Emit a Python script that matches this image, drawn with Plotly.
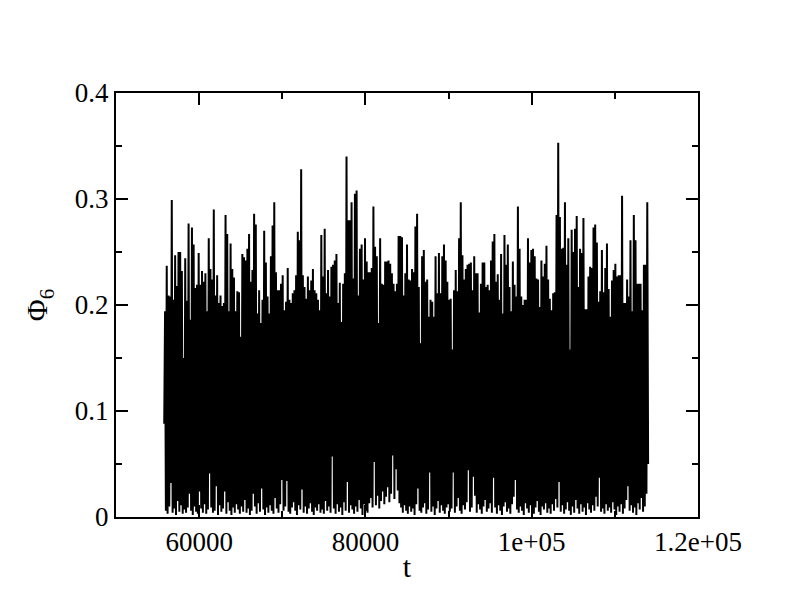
import numpy as np
import plotly.graph_objects as go

# ---- data ----
T_START = 55800
T_END = 114000
START_VALUE = 0.088

peaks = [
    0.194, 0.237, 0.209, 0.208, 0.299, 0.205, 0.247, 0.218, 0.250, 0.250,
    0.232, 0.150, 0.244, 0.204, 0.277, 0.186, 0.273, 0.257, 0.216, 0.219,
    0.249, 0.219, 0.232, 0.222, 0.230, 0.194, 0.263, 0.234, 0.224, 0.290,
    0.209, 0.228, 0.202, 0.209, 0.199, 0.202, 0.285, 0.267, 0.194, 0.258,
    0.234, 0.226, 0.194, 0.213,
    0.212, 0.170, 0.248, 0.245, 0.242, 0.253, 0.267, 0.222, 0.233, 0.286,
    0.276, 0.192, 0.214, 0.183, 0.205, 0.270, 0.240, 0.208, 0.192, 0.246,
    0.275, 0.297, 0.231, 0.214, 0.214, 0.220, 0.228, 0.195, 0.203, 0.235,
    0.205, 0.202, 0.211, 0.214, 0.228, 0.269, 0.261, 0.328, 0.228, 0.217,
    0.206, 0.227, 0.214, 0.223, 0.234, 0.214, 0.211, 0.205,
    0.195, 0.266, 0.227, 0.272, 0.211, 0.233, 0.208, 0.236, 0.238, 0.242,
    0.248, 0.202, 0.221, 0.184, 0.220, 0.230, 0.340, 0.280, 0.280, 0.297,
    0.225, 0.305, 0.308, 0.209, 0.253, 0.257, 0.224, 0.263, 0.241, 0.231,
    0.231, 0.235, 0.293, 0.255, 0.246, 0.183, 0.263, 0.220, 0.219, 0.241,
    0.241, 0.242, 0.239, 0.230, 0.220, 0.213, 0.220, 0.265,
    0.265, 0.264, 0.209, 0.230, 0.257, 0.224, 0.223, 0.234, 0.231, 0.274,
    0.286, 0.217, 0.164, 0.246, 0.252, 0.222, 0.224, 0.189, 0.205, 0.203,
    0.189, 0.246, 0.211, 0.249, 0.211, 0.246, 0.257, 0.242, 0.222, 0.205,
    0.206, 0.158, 0.214, 0.233, 0.213, 0.263, 0.297, 0.247, 0.224, 0.234,
    0.238, 0.239, 0.240, 0.214, 0.246, 0.230, 0.230, 0.193, 0.220, 0.240,
    0.240, 0.217, 0.219, 0.214, 0.242, 0.260, 0.267, 0.222, 0.229, 0.205,
    0.248, 0.192, 0.266, 0.238, 0.257, 0.217, 0.194, 0.241, 0.219, 0.208,
    0.293, 0.253, 0.208, 0.200, 0.205, 0.205, 0.263, 0.240, 0.252, 0.253,
    0.246, 0.225, 0.224, 0.198, 0.242, 0.227, 0.239, 0.256, 0.224, 0.206,
    0.195, 0.211, 0.212, 0.285, 0.353, 0.283, 0.253, 0.254, 0.297, 0.238,
    0.263,
    0.158, 0.271, 0.250, 0.272, 0.284, 0.217, 0.253, 0.249, 0.282, 0.196,
    0.196, 0.227, 0.236, 0.235, 0.273, 0.276, 0.259, 0.203, 0.213, 0.252,
    0.212, 0.235, 0.258, 0.215, 0.189, 0.223, 0.233, 0.239, 0.227, 0.228,
    0.228, 0.303, 0.202, 0.202, 0.224, 0.208, 0.261, 0.194, 0.285, 0.261,
    0.220, 0.220, 0.220, 0.195, 0.238, 0.238, 0.297,
]

troughs = [
    0.006, 0.003, 0.010, 0.032, 0.004, 0.008, 0.002, 0.015, 0.005, 0.011, 0.003, 0.007,
    0.004, 0.009, 0.022, 0.006, 0.002, 0.010, 0.005, 0.003, 0.024, 0.008, 0.004, 0.012,
    0.003, 0.007, 0.041, 0.009, 0.004, 0.006, 0.029, 0.002, 0.011, 0.005, 0.008, 0.024,
    0.003, 0.014, 0.006, 0.002, 0.009, 0.004, 0.012, 0.007, 0.003, 0.010, 0.005, 0.016,
    0.004, 0.008, 0.002, 0.006, 0.022, 0.010, 0.003, 0.013, 0.005, 0.027, 0.007, 0.002,
    0.009, 0.004, 0.011, 0.006, 0.003, 0.018, 0.008, 0.004, 0.012, 0.035, 0.006, 0.010,
    0.034, 0.005, 0.003, 0.009, 0.014, 0.006, 0.002, 0.011, 0.007, 0.026, 0.004, 0.010,
    0.003, 0.008, 0.013, 0.005, 0.002, 0.009, 0.006, 0.012, 0.004, 0.007, 0.003, 0.015,
    0.006, 0.010, 0.004, 0.057, 0.008, 0.003, 0.012, 0.005, 0.009, 0.002, 0.014, 0.006,
    0.033, 0.004, 0.011, 0.007, 0.003, 0.010, 0.005, 0.016, 0.008, 0.002, 0.012, 0.006,
    0.004, 0.013, 0.018, 0.009, 0.052, 0.011, 0.020, 0.008, 0.015, 0.024, 0.012, 0.019,
    0.028, 0.014, 0.022, 0.058, 0.017, 0.045, 0.025, 0.013, 0.009, 0.004, 0.011, 0.006,
    0.003, 0.010, 0.005, 0.008, 0.002, 0.012, 0.027, 0.006, 0.004, 0.009, 0.013, 0.003,
    0.007, 0.042, 0.005, 0.010, 0.002, 0.008, 0.015, 0.004, 0.011, 0.006, 0.003, 0.009,
    0.012, 0.005, 0.008, 0.042, 0.004, 0.010, 0.018, 0.006, 0.003, 0.011, 0.007, 0.014,
    0.044, 0.005, 0.009, 0.038, 0.020, 0.004, 0.012, 0.007, 0.003, 0.010, 0.016, 0.005,
    0.008, 0.013, 0.004, 0.037, 0.009, 0.003, 0.011, 0.006, 0.002, 0.010, 0.014, 0.005,
    0.008, 0.003, 0.012, 0.019, 0.035, 0.007, 0.004, 0.010, 0.006, 0.002, 0.013, 0.008,
    0.004, 0.011, 0.006, 0.003, 0.009, 0.015, 0.005, 0.002, 0.010, 0.007, 0.013, 0.004,
    0.008, 0.003, 0.012, 0.006, 0.017, 0.009, 0.033, 0.005, 0.011, 0.003, 0.007, 0.014,
    0.006, 0.002, 0.010, 0.004, 0.016, 0.008, 0.003, 0.012, 0.005, 0.009, 0.002, 0.013,
    0.007, 0.004, 0.011, 0.006, 0.019, 0.010, 0.037, 0.005, 0.008, 0.003, 0.012, 0.006,
    0.009, 0.004, 0.014, 0.007, 0.002, 0.010, 0.005, 0.012, 0.003, 0.008, 0.016, 0.029,
    0.006, 0.011, 0.004, 0.009, 0.002, 0.013, 0.007, 0.018, 0.005, 0.010, 0.022, 0.050,
]

x_tickvals = [60000, 80000, 100000, 120000]
x_ticktext = ["60000", "80000", "1e+05", "1.2e+05"]
x_minor = [50000, 70000, 90000, 110000]
y_tickvals = [0, 0.1, 0.2, 0.3, 0.4]
y_ticktext = ["0", "0.1", "0.2", "0.3", "0.4"]
y_minor = [0.05, 0.15, 0.25, 0.35]

# ---- build the alternating series ----
phi = [START_VALUE]
for p, tr in zip(peaks, troughs):
    phi.append(p)
    phi.append(tr)
t = np.linspace(T_START, T_END, len(phi))

FONT = "Liberation Serif"

fig = go.Figure()
fig.add_trace(go.Scatter(x=t, y=phi, mode="lines",
                         line=dict(color="black", width=2),
                         showlegend=False, hoverinfo="skip"))

axis_common = dict(
    showline=True, linecolor="black", linewidth=2, mirror="allticks",
    ticks="inside", ticklen=12, tickwidth=2, tickcolor="black",
    showgrid=False, zeroline=False,
    tickfont=dict(family=FONT, size=27, color="black"),
)

fig.update_xaxes(
    range=[50000, 120000], tickmode="array",
    tickvals=x_tickvals, ticktext=x_ticktext,
    minor=dict(tickmode="array", tickvals=x_minor, ticks="inside",
               ticklen=6, tickwidth=2, tickcolor="black"),
    title=dict(text="t", font=dict(family=FONT, size=30, color="black"), standoff=0),
    **axis_common,
)
fig.update_yaxes(
    range=[0, 0.4], tickmode="array",
    tickvals=y_tickvals, ticktext=y_ticktext,
    minor=dict(tickmode="array", tickvals=y_minor, ticks="inside",
               ticklen=6, tickwidth=2, tickcolor="black"),
    title=dict(text="Φ<sub>6</sub>", font=dict(family=FONT, size=30, color="black"), standoff=18),
    **axis_common,
)

fig.update_layout(
    width=792, height=608,
    margin=dict(l=108, r=102, t=85, b=99, autoexpand=False),
    paper_bgcolor="white", plot_bgcolor="white",
)

fig.write_html("out.html")
